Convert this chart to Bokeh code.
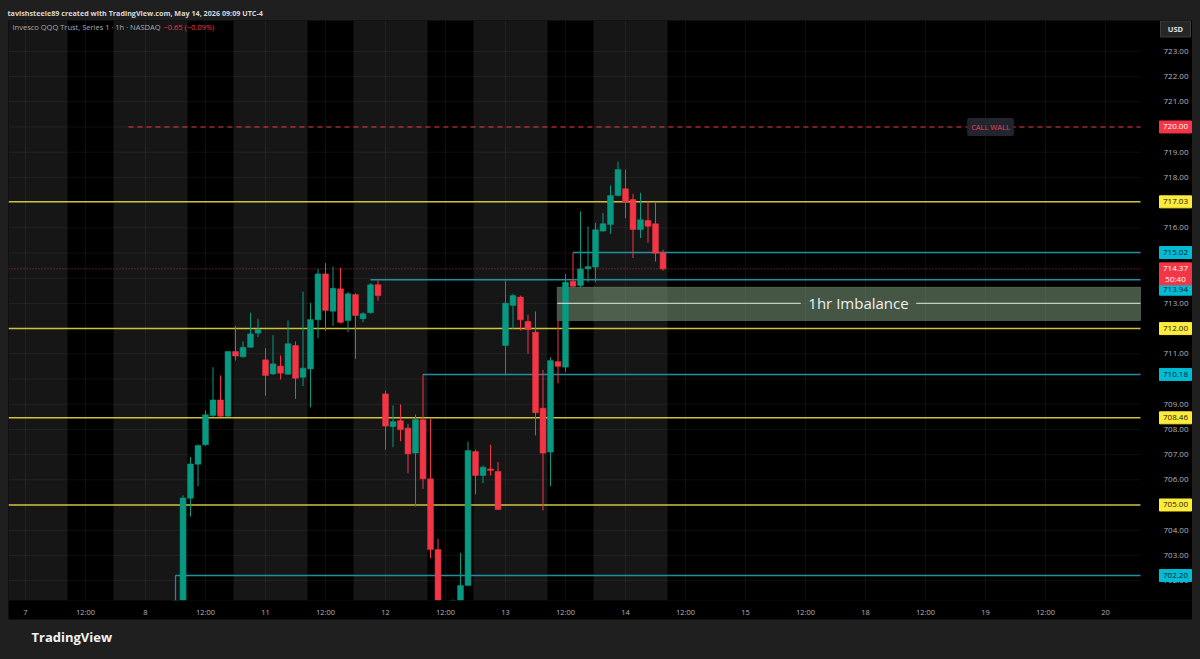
import numpy as np
from bokeh.plotting import figure
from bokeh.models import (Range1d, FixedTicker, Label, Title, ColumnDataSource)
from bokeh.core.properties import value
from bokeh.embed import file_html
from bokeh.resources import INLINE

# ---------------- data ----------------
bar_index = list(range(20, 56)) + list(range(57, 86))
opens = [700.50, 700.90, 705.27, 706.62, 707.39, 708.55, 709.17, 708.52, 711.09, 710.88,
         711.26, 711.82, 710.76, 710.20, 710.51, 710.19, 711.33, 710.07, 710.40, 712.35,
         714.17, 712.69, 713.58, 712.32, 713.35, 712.39, 712.63, 713.74, 709.41, 708.11,
         708.35, 708.05, 707.06, 708.38, 706.04, 703.23,
         700.60, 700.90, 701.81, 707.12, 706.17, 706.43, 706.33, 711.33, 712.92, 713.25,
         712.28, 711.86, 708.84, 707.10, 710.69, 710.47, 713.88, 713.71, 714.37, 714.44,
         715.87, 716.13, 717.28, 717.55, 717.12, 715.93, 716.29, 716.16, 715.00]
highs = [702.20, 705.38, 706.90, 707.40, 708.75, 710.47, 710.14, 711.10, 712.10, 711.49,
         712.63, 712.39, 711.22, 711.74, 710.93, 712.32, 711.49, 713.47, 713.02, 714.37,
         714.60, 714.46, 714.41, 713.45, 713.40, 712.65, 713.80, 713.91, 709.54, 708.95,
         708.99, 708.22, 708.59, 710.18, 708.42, 703.66,
         701.25, 703.10, 707.52, 707.20, 706.57, 707.39, 706.70, 713.91, 713.38, 713.31,
         712.55, 712.68, 710.36, 710.87, 712.32, 714.17, 715.01, 716.65, 716.05, 716.20,
         716.59, 717.68, 718.63, 718.31, 717.35, 717.39, 717.04, 717.02, 715.13]
lows = [700.00, 700.60, 704.54, 705.75, 707.35, 708.49, 708.50, 708.50, 710.73, 710.85,
        711.24, 711.66, 709.34, 710.16, 709.98, 710.17, 709.21, 709.72, 708.88, 711.62,
        711.90, 712.10, 712.20, 711.86, 710.80, 712.25, 712.60, 713.11, 707.20, 707.30,
        707.53, 706.26, 704.94, 705.64, 702.89, 700.60,
        700.20, 700.60, 701.80, 705.42, 705.87, 706.17, 704.81, 710.14, 711.99, 711.92,
        711.00, 707.76, 704.78, 705.75, 709.83, 710.27, 713.66, 713.64, 713.84, 713.84,
        715.85, 715.76, 717.25, 716.38, 714.80, 715.59, 715.40, 714.66, 714.30]
closes = [700.90, 705.28, 706.63, 707.36, 708.58, 709.17, 708.52, 711.09, 710.91, 711.26,
          711.79, 711.96, 710.14, 710.60, 710.23, 711.40, 710.03, 710.43, 712.36, 714.17,
          712.72, 713.60, 712.25, 713.38, 712.52, 712.59, 713.74, 713.31, 708.13, 708.31,
          707.99, 707.03, 708.39, 706.04, 703.23, 700.90,
          701.00, 701.81, 707.16, 706.17, 706.50, 706.37, 704.82, 713.01, 713.31, 712.35,
          711.96, 708.66, 707.06, 710.73, 710.50, 713.84, 713.68, 714.37, 714.46, 715.92,
          716.16, 717.28, 718.31, 717.02, 715.93, 716.32, 716.06, 714.99, 714.37]

day_names = ["7", "8", "11", "12", "13", "14", "15", "18", "19", "20"]
bars_per_day = 16
noon_offset = 8
session_open_offset = 5.6
session_close_offset = 11.73
days_with_data = 6

yellow_levels = [717.03, 712.00, 708.46, 705.00]
cyan_levels = [715.02, 713.94, 710.18, 702.20]
cyan_starts = [73, 46, 53, 20]
call_wall = 720.00
call_wall_start = 13.73
imb_start, imb_bottom, imb_top, imb_mid = 70.9, 712.32, 713.64, 713.00
last_price = 714.37
countdown = "50:40"
price_ticks = list(range(702, 724))

# ---------------- geometry ----------------
PX_PER_BAR, PX_PER_PT = 7.5, 25.2
X_LO = (8 - 25) / PX_PER_BAR          # frame left edge (page x 8)
X_PLOT = (1140 - 25) / PX_PER_BAR     # end of chart pane / start of price scale
X_HI = (1192 - 25) / PX_PER_BAR       # frame right edge (page x 1192)
Y_LO, Y_HI = 701.21, 724.226


def px2x(px):      # page pixel -> bar units (placement of decorations)
    return (px - 25) / PX_PER_BAR


def dpx(py):       # pixel offset -> price units
    return py / PX_PER_PT


FONT = "Open Sans"
UP, DOWN = "#089981", "#f23645"
YELLOW_LINE, CYAN_LINE = "#cfc13a", "#1f8fa1"
AXIS_TXT = "#b2b5be"

p = figure(width=1192, height=659, output_backend="svg", toolbar_location=None,
           x_range=Range1d(X_LO, X_HI), y_range=Range1d(Y_LO, Y_HI),
           y_axis_location=None,
           min_border_left=8, min_border_right=0, min_border_top=20,
           min_border_bottom=59,
           background_fill_color="#000000", border_fill_color="#1f1f1f",
           outline_line_color=None)

# header title
p.title.text = "tavishsteele89 created with TradingView.com, May 14, 2026 09:09 UTC-4"
p.title.align = "left"
p.title.offset = -1
p.title.standoff = 5
p.title.text_font = FONT
p.title.text_font_size = "7.2px"
p.title.text_font_style = "bold"
p.title.text_color = "#d8d8d8"

# time axis
xt, xl = [], {}
for i, d in enumerate(day_names):
    for off, lab in ((0, d), (noon_offset, "12:00")):
        t = i * bars_per_day + off
        if t <= X_PLOT:
            xt.append(t)
            xl[t] = lab
xa = p.xaxis[0]
xa.ticker = FixedTicker(ticks=xt)
xa.major_label_overrides = xl
xa.axis_line_color = None
xa.major_tick_line_color = None
xa.minor_tick_line_color = None
xa.major_tick_out = 0
xa.major_tick_in = 0
xa.major_label_text_color = AXIS_TXT
xa.major_label_text_font = FONT
xa.major_label_text_font_size = "7.5px"
xa.major_label_standoff = 6
xa.background_fill_color = "#000000"

# footer (TradingView wordmark)
p.add_layout(Title(text="TradingView", align="left", offset=23, standoff=13,
                   text_font=FONT, text_font_size="13px", text_font_style="bold",
                   text_color="#f2f2f2"), "below")

# grid
p.xgrid.ticker = FixedTicker(ticks=xt)
p.xgrid.grid_line_color = "#ffffff"
p.xgrid.grid_line_alpha = 0.06
p.ygrid.grid_line_color = None
p.segment(x0=[X_LO] * len(price_ticks), x1=[X_PLOT] * len(price_ticks),
          y0=price_ticks, y1=price_ticks, line_color="#ffffff", line_alpha=0.06,
          line_width=1, level="underlay")

# extended-hours shading
ext_left, ext_right = [], []
for d in range(days_with_data):
    ext_left.append(X_LO if d == 0 else (d - 1) * bars_per_day + session_close_offset)
    ext_right.append(d * bars_per_day + session_open_offset)
p.quad(left=ext_left, right=ext_right, bottom=Y_LO - 5, top=Y_HI + 5,
       fill_color="#161616", line_color=None, level="image")

# imbalance zone
p.quad(left=[imb_start], right=[X_PLOT], bottom=[imb_bottom], top=[imb_top],
       fill_color="#7d9c7d", fill_alpha=0.55, line_color="#95ad95", line_alpha=0.35)

# level lines
p.segment(x0=[X_LO] * len(yellow_levels), x1=[X_PLOT] * len(yellow_levels),
          y0=yellow_levels, y1=yellow_levels, line_color=YELLOW_LINE, line_width=1.5)
p.segment(x0=cyan_starts, x1=[X_PLOT] * len(cyan_levels),
          y0=cyan_levels, y1=cyan_levels, line_color=CYAN_LINE, line_width=1.5)
p.segment(x0=[cyan_starts[-1]], x1=[cyan_starts[-1]], y0=[Y_LO - 1], y1=[cyan_levels[-1]],
          line_color=CYAN_LINE, line_width=1.2)
p.segment(x0=[call_wall_start], x1=[X_PLOT], y0=[call_wall], y1=[call_wall],
          line_color=DOWN, line_width=1, line_dash="5 4")
p.segment(x0=[X_LO], x1=[X_PLOT], y0=[last_price], y1=[last_price],
          line_color=DOWN, line_width=1, line_dash="1 2", line_alpha=0.75)

# candles
o = np.array(opens); c = np.array(closes)
colors = [UP if cc >= oo else DOWN for oo, cc in zip(o, c)]
src = ColumnDataSource(dict(x=bar_index, o=o, h=highs, l=lows, c=c,
                            top=np.maximum(o, c), bot=np.minimum(o, c), color=colors))
p.segment(x0="x", x1="x", y0="l", y1="h", line_color="color", line_width=1, source=src)
p.vbar(x="x", width=0.78, top="top", bottom="bot", fill_color="color",
       line_color="color", line_width=0.5, source=src)

# imbalance label and midline
lbl_x = px2x(858)
p.segment(x0=[imb_start, lbl_x + 7.7], x1=[lbl_x - 7.7, X_PLOT], y0=[imb_mid, imb_mid],
          y1=[imb_mid, imb_mid], line_color="#c4cbc4", line_width=1.2)
p.add_layout(Label(x=lbl_x, y=imb_mid, text="1hr Imbalance", text_align="center",
                   text_baseline="middle", text_color="#f0f0f0",
                   text_font=FONT, text_font_size="15px"))

# call wall tag
p.add_layout(Label(x=px2x(990), y=call_wall, text="CALL WALL", text_align="center",
                   text_baseline="middle", text_color="#e8415a", text_font=FONT,
                   text_font_size="7.5px", background_fill_color="#22252e",
                   padding=4, border_radius=2))

# symbol line
sym_y = Y_HI - dpx(7)
p.add_layout(Label(x=px2x(12), y=sym_y, text="Invesco QQQ Trust, Series 1 · 1h · NASDAQ",
                   text_align="left", text_baseline="middle", text_color="#a7aab3",
                   text_font=FONT, text_font_size="7.5px"))
p.add_layout(Label(x=px2x(163), y=sym_y, text="−0.65 (−0.09%)",
                   text_align="left", text_baseline="middle", text_color="#f23645",
                   text_font=FONT, text_font_size="7.5px"))

# ---------------- price scale (right pane of the frame) ----------------
scale_lbl_x = px2x(1163)
p.text(x=[scale_lbl_x] * len(price_ticks), y=price_ticks,
       text=["%.2f" % t for t in price_ticks], text_align="left", text_baseline="middle",
       text_color=AXIS_TXT, text_font=value(FONT), text_font_size="8px")

tag_x = px2x(1175)
tag_y, tag_txt, tag_bg, tag_fg = [], [], [], []
tag_y.append(call_wall); tag_txt.append("%.2f" % call_wall)
tag_bg.append("#f23645"); tag_fg.append("#ffffff")
for lv in yellow_levels:
    tag_y.append(lv); tag_txt.append("%.2f" % lv)
    tag_bg.append("#ffeb3b"); tag_fg.append("#131313")
for lv in cyan_levels:
    shift = dpx(9.5) if lv == cyan_levels[1] else 0
    tag_y.append(lv - shift); tag_txt.append("%.2f" % lv)
    tag_bg.append("#00bcd4"); tag_fg.append("#0c1a1e")
tags = ColumnDataSource(dict(x=[tag_x] * len(tag_y), y=tag_y, t=tag_txt, bg=tag_bg, fg=tag_fg))
p.rect(x="x", y="y", width=32, height=12, width_units="screen", height_units="screen",
       fill_color="bg", line_color="bg", source=tags)
p.text(x="x", y="y", text="t", text_color="fg", text_align="center",
       text_baseline="middle", text_font=value(FONT), text_font_size="8px", source=tags)

# last price + countdown tag
lp_y2 = last_price - dpx(10)
p.rect(x=[tag_x], y=[last_price - dpx(5)], width=32, height=22, width_units="screen",
       height_units="screen", fill_color="#f23645", line_color="#f23645")
p.text(x=[tag_x, tag_x], y=[last_price, lp_y2], text=["%.2f" % last_price, countdown],
       text_color="#ffffff", text_align="center", text_baseline="middle",
       text_font=value(FONT), text_font_size="8px")

# USD button
usd_y = Y_HI - dpx(8.5)
p.rect(x=[tag_x], y=[usd_y], width=30, height=16, width_units="screen",
       height_units="screen", fill_color="#262626", line_color="#3d3d3d")
p.text(x=[tag_x], y=[usd_y], text=["USD"], text_color="#e0e0e0", text_align="center",
       text_baseline="middle", text_font=value(FONT), text_font_size="7.5px",
       text_font_style="bold")

open("out.html", "w").write(file_html(p, INLINE).replace(
    "</head>", "<style>body{background:#1f1f1f;}</style></head>"))
